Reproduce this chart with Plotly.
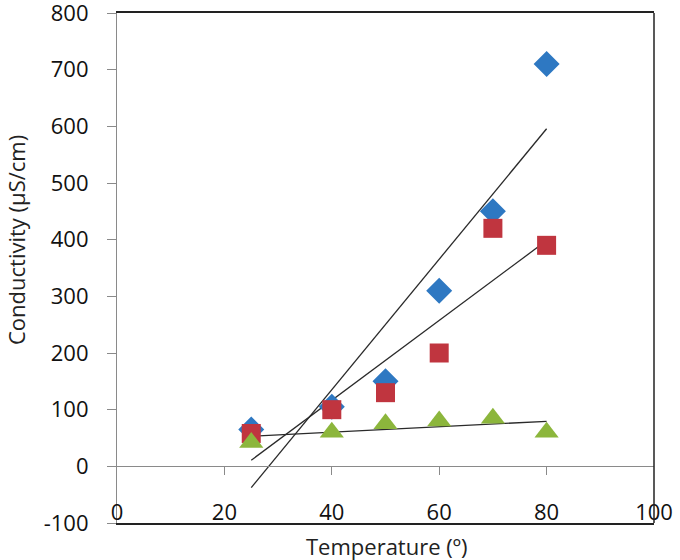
import numpy as np
import plotly.graph_objects as go

# ---- data ----
temperature = [25, 40, 50, 60, 70, 80]
series_blue = [65, 105, 150, 310, 450, 710]
series_red = [58, 100, 130, 200, 420, 390]
series_green = [42, 60, 75, 80, 85, 60]

x_ticks = [0, 20, 40, 60, 80, 100]
y_ticks = [-100, 0, 100, 200, 300, 400, 500, 600, 700, 800]

BLUE = "#2E78C2"
RED = "#C0353F"
GREEN = "#8CB63C"

FONT = "Open Sans"

fig = go.Figure()

xs = np.array(temperature, dtype=float)
for vals in (series_blue, series_red, series_green):
    m, b = np.polyfit(xs, np.array(vals, dtype=float), 1)
    fit_x = [xs.min(), xs.max()]
    fig.add_trace(go.Scatter(
        x=fit_x, y=[m * v + b for v in fit_x], mode="lines",
        line=dict(color="#2a2a2a", width=1.3), showlegend=False, hoverinfo="skip"))

fig.add_trace(go.Scatter(x=temperature, y=series_blue, mode="markers",
                         marker=dict(symbol="diamond", size=20, color=BLUE), showlegend=False))
fig.add_trace(go.Scatter(x=temperature, y=series_red, mode="markers",
                         marker=dict(symbol="square", size=19, color=RED), showlegend=False))
fig.add_trace(go.Scatter(x=temperature, y=series_green, mode="markers",
                         marker=dict(symbol="triangle-up", size=21, color=GREEN), showlegend=False))

L, R, T, B = 117, 26, 13, 37
fig.update_layout(
    width=680, height=560,
    margin=dict(l=L, r=R, t=T, b=B, autoexpand=False),
    paper_bgcolor="white", plot_bgcolor="white",
    font=dict(family=FONT, size=22, color="#111"),
    showlegend=False,
    xaxis=dict(
        range=[0, 100], tickvals=x_ticks, ticktext=[str(v) for v in x_ticks],
        showgrid=False, zeroline=False,
        showline=True, linecolor="#222", linewidth=1.5, mirror=True,
        ticks="", ticklabelposition="inside", ticklabeloverflow="allow",
        tickfont=dict(family=FONT, size=22, color="#111"),
    ),
    xaxis2=dict(
        range=[0, 100], overlaying="x", anchor="free", position=1 / 9,
        tickvals=[20, 40, 60, 80], showticklabels=False,
        showgrid=False, zeroline=False,
        showline=True, linecolor="#8a8a8a", linewidth=1.2,
        ticks="outside", ticklen=8, tickcolor="#8a8a8a", tickwidth=1.2,
    ),
    yaxis=dict(
        range=[-100, 800], tickvals=y_ticks, ticktext=[str(v) for v in y_ticks],
        showgrid=False, zeroline=False,
        showline=True, linecolor="#8a8a8a", linewidth=1.2,
        ticks="outside", ticklen=9, tickcolor="#8a8a8a", tickwidth=1.2,
        ticklabelstandoff=14, ticklabeloverflow="allow",
        tickfont=dict(family=FONT, size=22, color="#111"),
    ),
)

fig.add_trace(go.Scatter(x=[None], y=[None], xaxis="x2", showlegend=False, hoverinfo="skip"))

# right border
fig.add_shape(type="line", xref="paper", yref="paper", x0=1, x1=1, y0=0, y1=1,
              line=dict(color="#222", width=1.5))

PH = 560 - T - B
PW = 680 - L - R
fig.add_annotation(text="Temperature (º)", xref="paper", yref="paper",
                   x=(386 - L) / PW, xanchor="center",
                   y=-(546 - (560 - B)) / PH, yanchor="middle",
                   showarrow=False, font=dict(family=FONT, size=22, color="#222"))
fig.add_annotation(text="Conductivity (µS/cm)", xref="paper", yref="paper",
                   x=-(L - 16) / PW, xanchor="center",
                   y=(560 - B - 240) / PH, yanchor="middle", textangle=-90,
                   showarrow=False, font=dict(family=FONT, size=22, color="#222"))

fig.write_html("out.html", config={"displayModeBar": False},
               post_script="document.body.style.margin='0';")
